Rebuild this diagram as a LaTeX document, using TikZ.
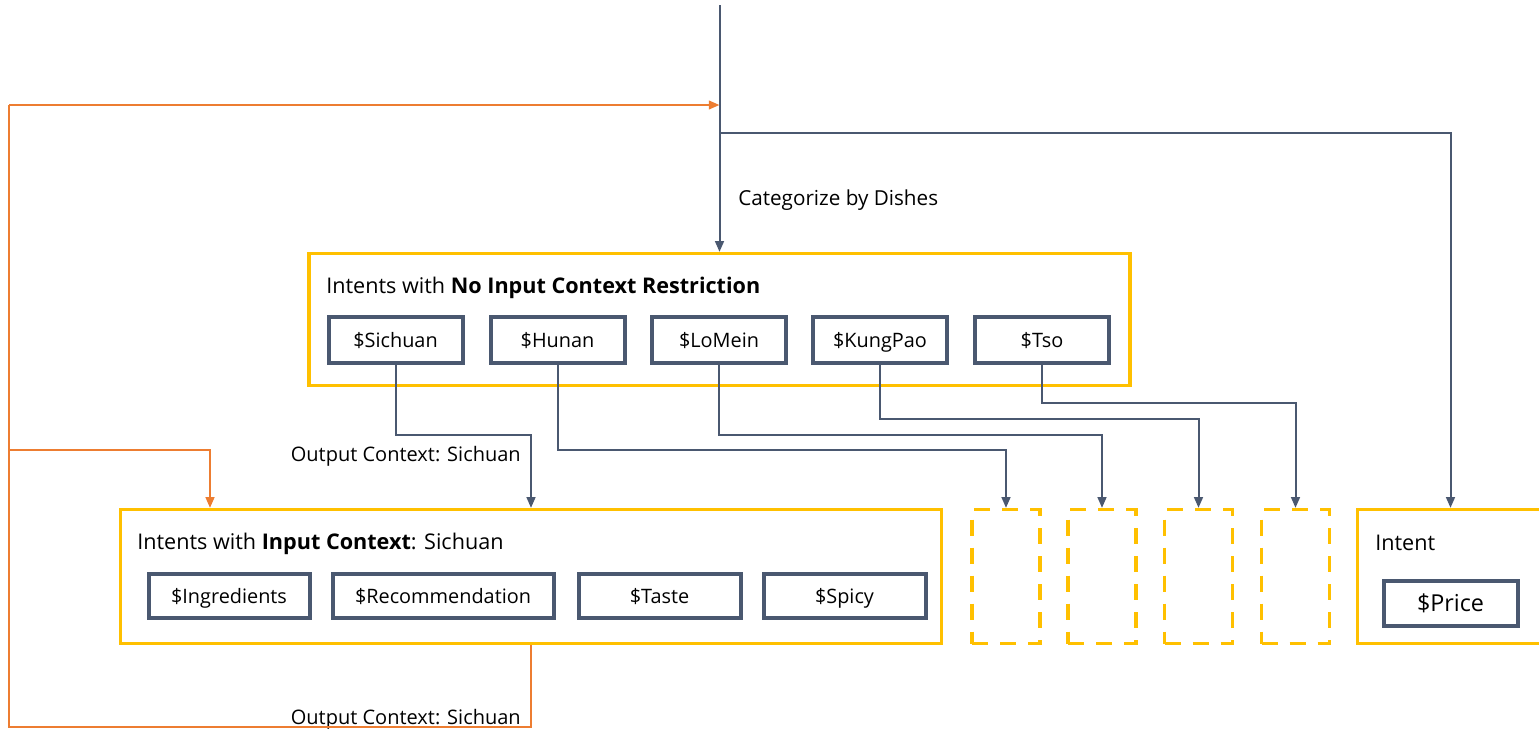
\documentclass[tikz,border=0pt]{standalone}
\usepackage{fontspec}
\setmainfont{Open Sans}
\usetikzlibrary{arrows.meta}
\definecolor{ygold}{HTML}{FFC000}
\definecolor{slate}{HTML}{4A5870}
\definecolor{orng}{HTML}{ED7D31}
\begin{document}
\begin{tikzpicture}[x=0.75pt,y=-0.75pt,
  frame/.style={draw=ygold,line width=2.4pt,inner sep=0pt,minimum height=99pt},
  ghost/.style={draw=ygold,line width=2.4pt,dash pattern=on 12pt off 9pt,inner sep=0pt,minimum width=51pt,minimum height=100.5pt},
  item/.style={draw=slate,line width=3pt,inner sep=0pt,text height=14pt,text depth=2.6pt,font=\fontsize{14.9}{16}\selectfont},
  conn/.style={draw=slate,line width=1.5pt,-{Triangle[length=8pt,width=6.5pt]}},
  plain/.style={draw=slate,line width=1.5pt},
  oconn/.style={draw=orng,line width=1.5pt,-{Triangle[length=8pt,width=6.5pt]}},
  oplain/.style={draw=orng,line width=1.5pt},
  lbl/.style={inner sep=0pt,yshift=-1.8pt,text height=10.6pt,text depth=2.6pt,font=\fontsize{15}{16}\selectfont},
  ttl/.style={inner sep=0pt,anchor=west,yshift=-1.8pt,text height=11.4pt,text depth=2.8pt,font=\fontsize{16.2}{18}\selectfont}]
\useasboundingbox (0,0) rectangle (1539,729);
\clip (0,0) rectangle (1539,729);
% frames
\node[frame,minimum width=615.75pt] (box1) at (719.5,319.5) {};
\node[frame,minimum width=615.75pt,minimum height=100.5pt] (box2) at (531,576.5) {};
\node[frame,minimum width=180.75pt,minimum height=100.5pt] (intentbox) at (1478,576.5) {};
\node[ghost] (d1) at (1006,576.5) {};
\node[ghost] (d2) at (1102,576.5) {};
\node[ghost] (d3) at (1198.5,576.5) {};
\node[ghost] (d4) at (1295.5,576.5) {};
% titles
\node[ttl] (t1) at (326,285) {Intents with \textbf{No Input Context Restriction}};
\node[ttl] (t2) at (137,541) {Intents with \textbf{Input Context}: Sichuan};
\node[ttl] (t3) at (1375,542) {Intent};
% items row 1
\node[item,minimum width=100.5pt,minimum height=34.5pt] (sichuan) at (395.5,339.5) {\$Sichuan};
\node[item,minimum width=100.5pt,minimum height=34.5pt] (hunan) at (557.5,339.5) {\$Hunan};
\node[item,minimum width=100.5pt,minimum height=34.5pt] (lomein) at (719,339.5) {\$LoMein};
\node[item,minimum width=100.5pt,minimum height=34.5pt] (kungpao) at (880,339.5) {\$KungPao};
\node[item,minimum width=100.5pt,minimum height=34.5pt] (tso) at (1042,339.5) {\$Tso};
% items row 2
\node[item,minimum width=120.75pt,minimum height=33pt] (ingr) at (229,595.5) {\$Ingredients};
\node[item,minimum width=165.75pt,minimum height=33pt] (recom) at (443,595.5) {\$Recommendation};
\node[item,minimum width=121.5pt,minimum height=33pt] (taste) at (659.5,595.5) {\$Taste};
\node[item,minimum width=121.5pt,minimum height=33pt] (spicy) at (844.5,595.5) {\$Spicy};
\node[item,minimum width=100.5pt,minimum height=33.75pt,text height=15.4pt,text depth=3pt,font=\fontsize{17.5}{19}\selectfont] (price) at (1450.5,603) {\$Price};
% labels
\node[lbl,anchor=west,font=\fontsize{15.5}{17}\selectfont] (cat) at (738,198) {Categorize by Dishes};
\node[lbl,anchor=east] (oc1) at (521,454) {Output Context: Sichuan};
\node[lbl,anchor=east] (oc2) at (521,717) {Output Context: Sichuan};
% coordinates
\coordinate (top) at (719.5,5);
\coordinate (split) at (719.5,133);
\coordinate (merge) at (719.5,105);
\coordinate (ret) at (9,727);
\coordinate (tap) at (9,450);
% main connectors
\draw[conn] (top) -- (box1.north);
\draw[conn] (split) -| (1450.5,0 |- intentbox.north);
\draw[conn] (sichuan.south) |- (531,435) -- (531,0 |- box2.north);
\draw[conn] (hunan.south) |- (d1.north |- 0,450) -- (d1.north);
\draw[conn] (lomein.south) |- (d2.north |- 0,435) -- (d2.north);
\draw[conn] (kungpao.south) |- (d3.north |- 0,419) -- (d3.north);
\draw[conn] (tso.south) |- (d4.north |- 0,403) -- (d4.north);
% orange loop
\draw[oplain] (531,0 |- box2.south) -- (531,727) -- (ret) -- (9,105);
\draw[oconn] (9,105) -- (merge);
\draw[oconn] (tap) -| (210,0 |- box2.north);
\end{tikzpicture}
\end{document}
